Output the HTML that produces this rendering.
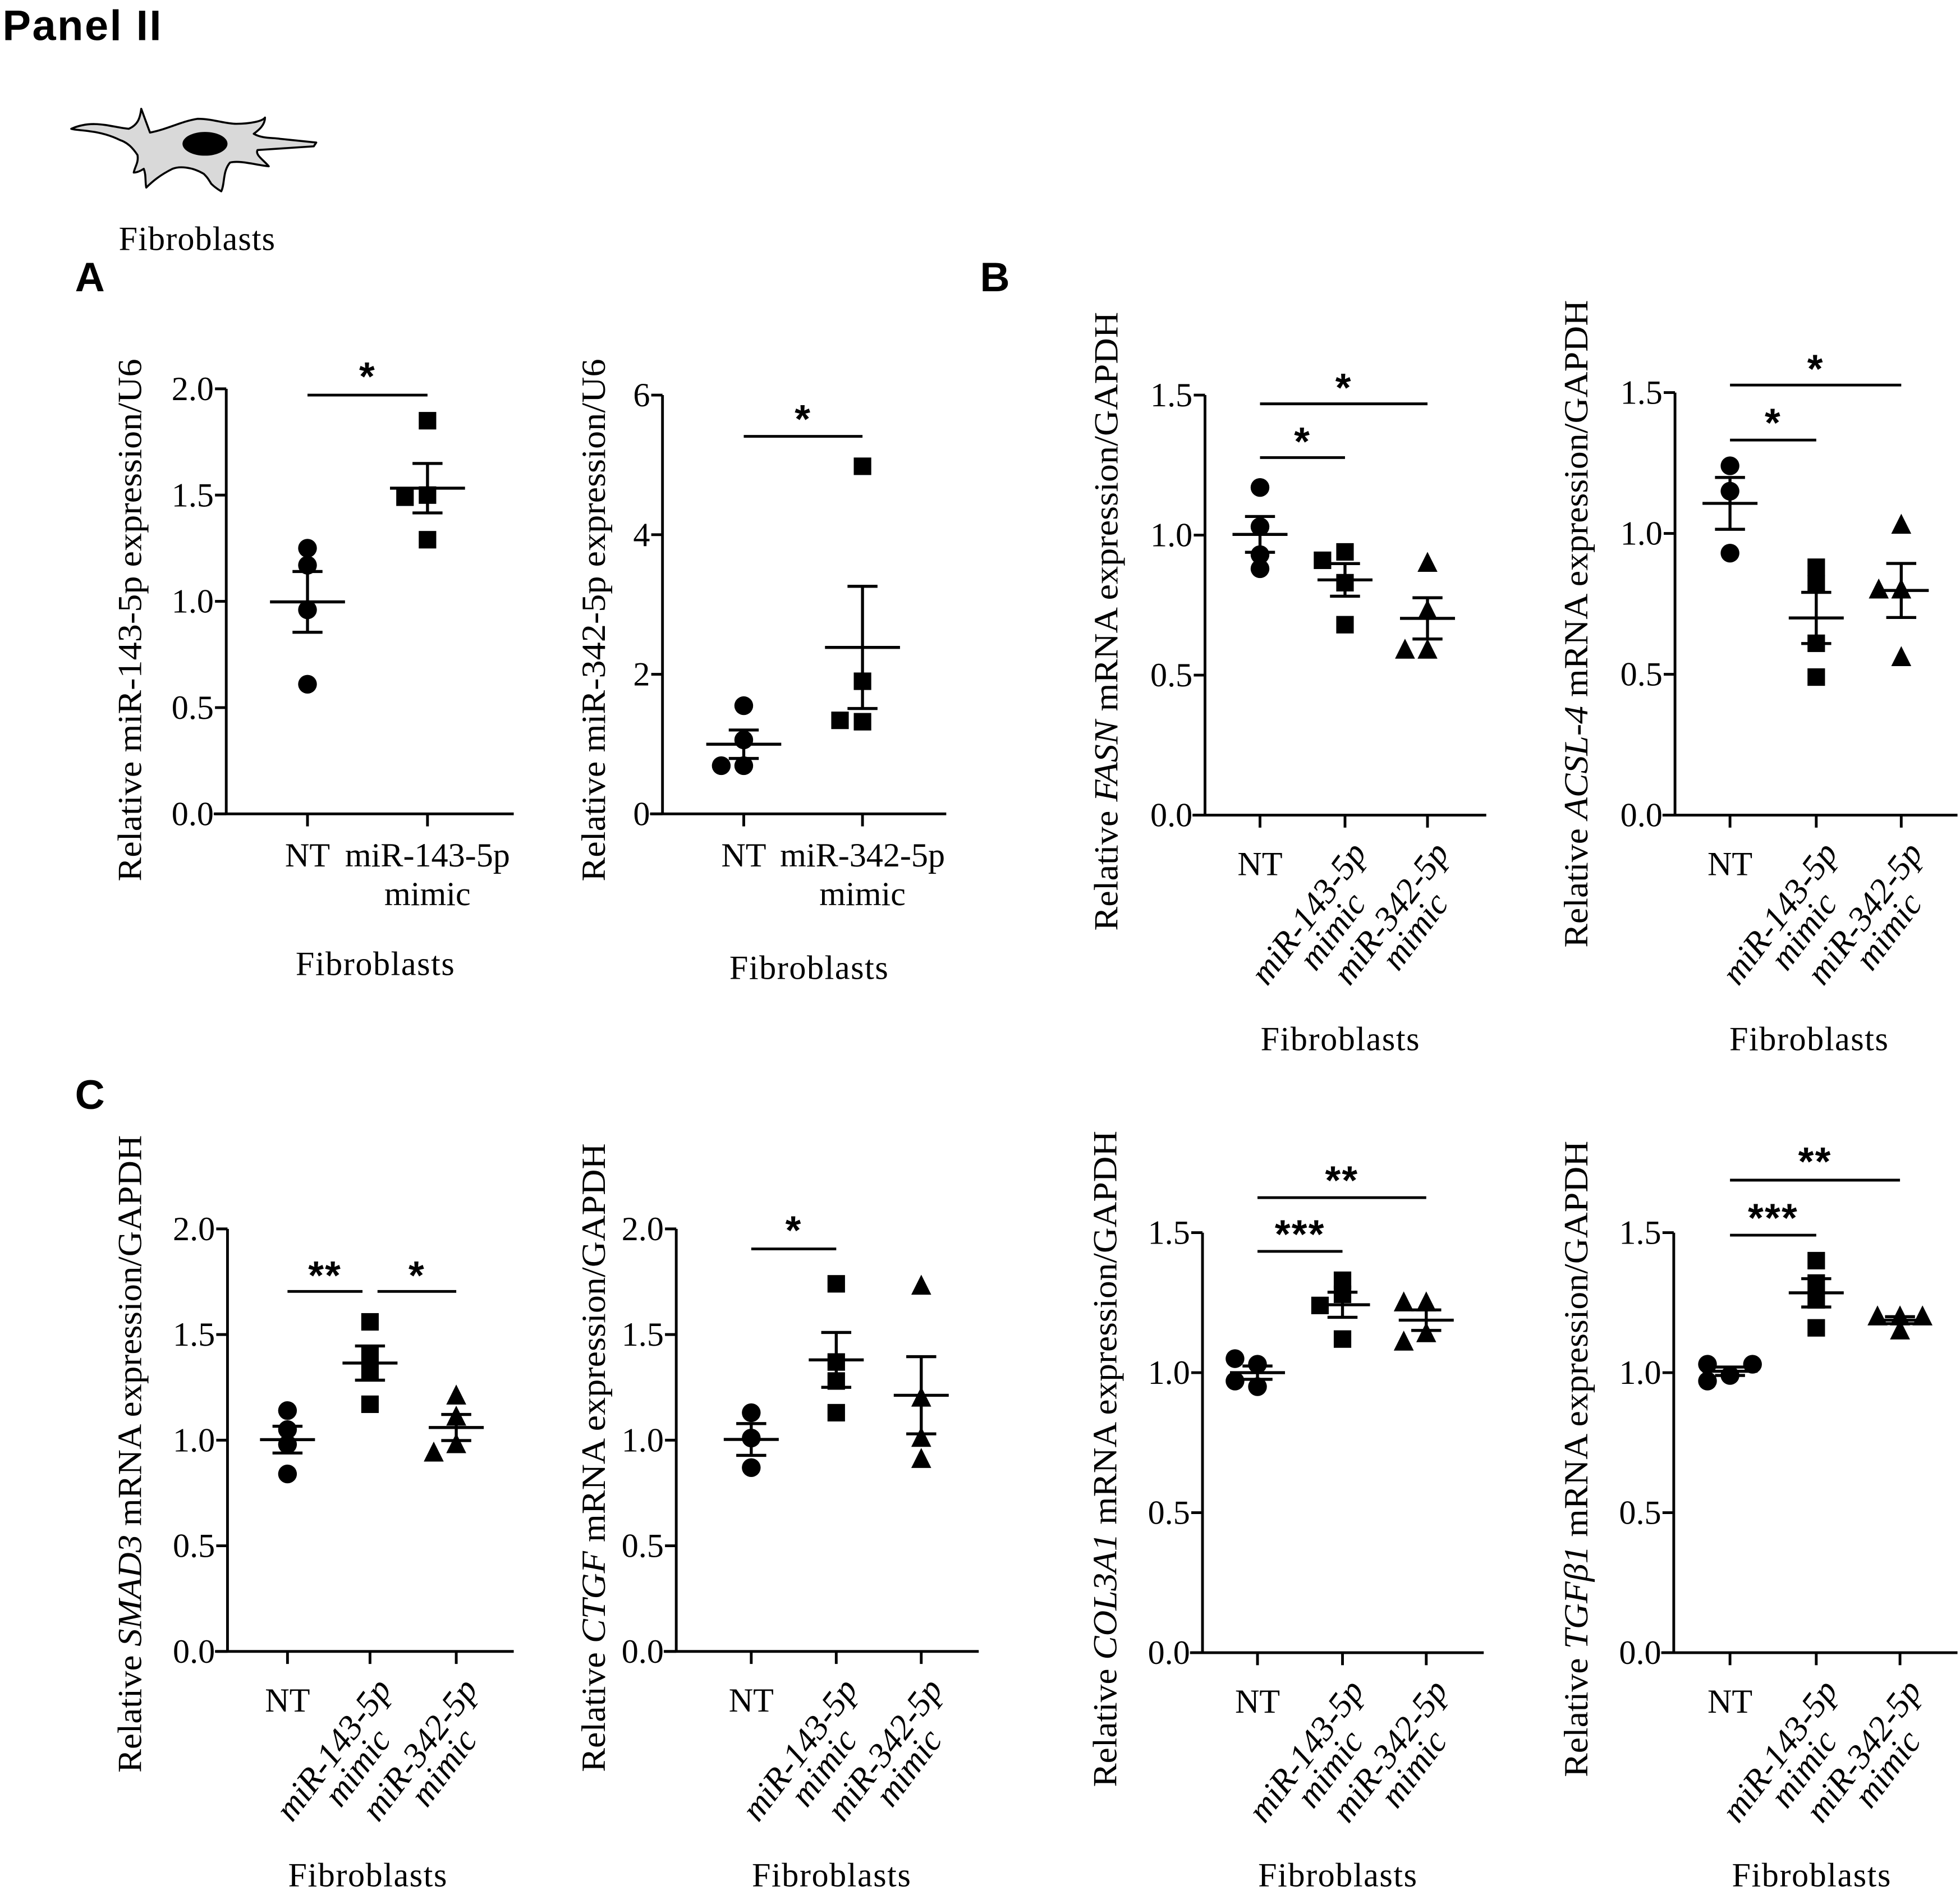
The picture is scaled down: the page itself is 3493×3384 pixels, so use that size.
<!DOCTYPE html>
<html><head><meta charset="utf-8">
<style>
html,body{margin:0;padding:0;background:#fff;}
svg{display:block;}
.serif{font-family:"Liberation Serif","DejaVu Serif",serif;}
.sans{font-family:"Liberation Sans","DejaVu Sans",sans-serif;}
</style></head>
<body>
<svg id="fig" width="3493" height="3384" viewBox="0 0 1568 1519" xmlns="http://www.w3.org/2000/svg">
  <rect x="0" y="0" width="1568" height="1519" fill="#fff"/>
  <text class="sans" x="2" y="32" font-size="34" font-weight="bold" textLength="127">Panel II</text>
  <g>
    <path d="M57,103 C75,95 90,102 103,103 C110,100 112,95 113,87 L120,106 C135,103 145,97 158,95 C170,95 180,99 189,99 C200,99 210,97 212,94 C212,100 207,104 203,107 C210,111 218,110 224,111 L253,114 L251,117 L206,120 C204,124 211,128 215,133 C205,132 192,128 184,130 C178,137 180,147 177,153 C172,150 170,148 169,147 C166,142 165,141 163,139 C153,133 143,133 138,135 C128,140 122,145 117,150 C116,145 117,140 115,135 C112,137 109,138 107,138 C108,133 111,130 110,124 C106,118 102,114 96,112 C88,108 80,106 72,105 C66,104 60,104 57,103 Z" fill="#d9d9d9" stroke="#000" stroke-width="1.6" stroke-linejoin="round"/>
    <ellipse cx="164" cy="115" rx="18" ry="9.5" fill="#000"/>
  </g>
  <text class="serif" x="95" y="200" font-size="27" textLength="125">Fibroblasts</text>
  <text class="sans" x="60" y="233" font-size="33" font-weight="bold">A</text>
  <text class="sans" x="784" y="233" font-size="33" font-weight="bold">B</text>
  <text class="sans" x="60" y="887" font-size="33" font-weight="bold">C</text>
  <g id="charts"></g>
</svg>
<script>
// ---------- data ----------
const catsTwo143 = ["NT", "miR-143-5p"];
const catsTwo342 = ["NT", "miR-342-5p"];
const catsThree = ["NT", "miR-143-5p", "miR-342-5p"];
const ticksA1 = [0, 0.5, 1.0, 1.5, 2.0];
const ticksA2 = [0, 2, 4, 6];
const ticks15 = [0, 0.5, 1.0, 1.5];
const ticks20 = [0, 0.5, 1.0, 1.5, 2.0];

const mir143Values = [[1.25, 1.17, 0.96, 0.61], [1.85, 1.50, 1.49, 1.29]];
const mir342Values = [[1.55, 1.06, 0.69, 0.69], [4.98, 1.90, 1.32, 1.34]];
const fasnValues = [[1.17, 1.03, 0.93, 0.88], [0.94, 0.91, 0.83, 0.68], [0.90, 0.73, 0.59, 0.59]];
const acsl4Values = [[1.24, 1.15, 0.93], [0.88, 0.82, 0.61, 0.49], [1.03, 0.80, 0.80, 0.56]];
const smad3Values = [[1.14, 1.05, 0.98, 0.84], [1.56, 1.40, 1.33, 1.17], [1.21, 1.11, 0.98, 0.94]];
const ctgfValues = [[1.13, 1.01, 0.87], [1.74, 1.37, 1.28, 1.13], [1.73, 1.20, 1.01, 0.91]];
const col3a1Values = [[0.95, 1.03, 1.05, 0.97], [1.33, 1.28, 1.24, 1.12], [1.25, 1.25, 1.14, 1.11]];
const tgfb1Values = [[0.99, 1.03, 1.03, 0.97], [1.40, 1.32, 1.26, 1.16], [1.20, 1.20, 1.20, 1.15]];

const sigA1 = [[0, 1, "*"]];
const sigA2 = [[0, 1, "*"]];
const sigFasn = [[0, 2, "*"], [0, 1, "*"]];
const sigAcsl4 = [[0, 2, "*"], [0, 1, "*"]];
const sigSmad3 = [[0, 1, "**"], [1, 2, "*"]];
const sigCtgf = [[0, 1, "*"]];
const sigCol3a1 = [[0, 2, "**"], [0, 1, "***"]];
const sigTgfb1 = [[0, 2, "**"], [0, 1, "***"]];

// ---------- layout (not data) ----------
const NS = "http://www.w3.org/2000/svg";
const root = document.getElementById("charts");
function mk(tag, attrs, parent) {
  const e = document.createElementNS(NS, tag);
  for (const k in attrs) e.setAttribute(k, attrs[k]);
  (parent || root).appendChild(e);
  return e;
}

const panels = [
  {id:"mir143", values:mir143Values, cats:catsTwo143, ticks:ticksA1, fmt:1, max:2.0, ax:181, y0:651, yTop:311, xs:[246,342], xEnd:411, rot:false, meanHalf:30,
   title:[["Relative miR-143-5p expression/U6",false]], titleX:113, titleC:496, titleLen:418, fib:[300,780], sig:sigA1, sigY:[316], starY:[293]},
  {id:"mir342", values:mir342Values, cats:catsTwo342, ticks:ticksA2, fmt:0, max:6, ax:530, y0:651, yTop:316, xs:[595,690], xEnd:757, rot:false, meanHalf:30,
   title:[["Relative miR-342-5p expression/U6",false]], titleX:484, titleC:496, titleLen:418, fib:[647,783], sig:sigA2, sigY:[349], starY:[327]},
  {id:"fasn", values:fasnValues, cats:catsThree, ticks:ticks15, fmt:1, max:1.5, ax:964, y0:652, yTop:316, xs:[1008,1076,1142], xEnd:1189, rot:true, meanHalf:22,
   title:[["Relative ",false],["FASN",true],[" mRNA expression/GAPDH",false]], titleX:894, titleC:497, titleLen:495, fib:[1072,840], sig:sigFasn, sigY:[323,366], starY:[302,345]},
  {id:"acsl4", values:acsl4Values, cats:catsThree, ticks:ticks15, fmt:1, max:1.5, ax:1340, y0:652, yTop:314, xs:[1384,1453,1521], xEnd:1566, rot:true, meanHalf:22,
   title:[["Relative ",false],["ACSL-4",true],[" mRNA expression/GAPDH",false]], titleX:1270, titleC:499, titleLen:518, fib:[1447,840], sig:sigAcsl4, sigY:[308,352], starY:[287,330]},
  {id:"smad3", values:smad3Values, cats:catsThree, ticks:ticks20, fmt:1, max:2.0, ax:182, y0:1321, yTop:983, xs:[230,296,365], xEnd:411, rot:true, meanHalf:22,
   title:[["Relative ",false],["SMAD3",true],[" mRNA expression/GAPDH",false]], titleX:113, titleC:1163, titleLen:510, fib:[294,1509], sig:sigSmad3, sigY:[1033,1033], starY:[1012,1012]},
  {id:"ctgf", values:ctgfValues, cats:catsThree, ticks:ticks20, fmt:1, max:2.0, ax:541, y0:1321, yTop:983, xs:[601,669,737], xEnd:783, rot:true, meanHalf:22,
   title:[["Relative ",false],["CTGF",true],[" mRNA expression/GAPDH",false]], titleX:484, titleC:1166, titleLen:503, fib:[665,1509], sig:sigCtgf, sigY:[999], starY:[976]},
  {id:"col3a1", values:col3a1Values, cats:catsThree, ticks:ticks15, fmt:1, max:1.5, ax:962, y0:1322, yTop:986, xs:[1006,1074,1141], xEnd:1187, rot:true, meanHalf:22,
   title:[["Relative ",false],["COL3A1",true],[" mRNA expression/GAPDH",false]], titleX:893, titleC:1167, titleLen:525, fib:[1070,1509], sig:sigCol3a1, sigY:[958,1001], starY:[936,979]},
  {id:"tgfb1", values:tgfb1Values, cats:catsThree, ticks:ticks15, fmt:1, max:1.5, ax:1339, y0:1322, yTop:986, xs:[1384,1453,1520], xEnd:1566, rot:true, meanHalf:22,
   title:[["Relative ",false],["TGFβ1",true],[" mRNA expression/GAPDH",false]], titleX:1270, titleC:1167, titleLen:509, fib:[1449,1509], sig:sigTgfb1, sigY:[944,988], starY:[921,966]}
];

const shapes = ["circle","square","triangle"];

function drawMarker(g, shape, x, y) {
  let m;
  if (shape === "circle") m = mk("circle", {cx:x, cy:y, r:7.5, fill:"#000"}, g);
  else if (shape === "square") m = mk("rect", {x:x-7, y:y-7, width:14, height:14, fill:"#000"}, g);
  else m = mk("polygon", {points:(x)+","+(y-9)+" "+(x+8)+","+(y+7)+" "+(x-8)+","+(y+7), fill:"#000"}, g);
  return m;
}

panels.forEach(p => {
  const g = mk("g", {});
  
  
  const yScale = v => p.y0 - (v / p.max) * (p.y0 - p.yTop);
  const xScale = i => p.xs[i];

  const yAxis = mk("g", {}, g);
  
  
  mk("line", {x1:p.ax, y1:yScale(p.max), x2:p.ax, y2:p.y0, stroke:"#000", "stroke-width":2.2}, yAxis);
  p.ticks.forEach(t => {
    const y = yScale(t);
    mk("line", {x1:p.ax-9, y1:y, x2:p.ax, y2:y, stroke:"#000", "stroke-width":2.2}, yAxis);
    const lbl = mk("text", {x:p.ax-10, y:y+9, "font-size":27, "text-anchor":"end", class:"serif"}, yAxis);
    lbl.textContent = p.fmt ? t.toFixed(1) : String(t);
    
    
  });

  const xAxis = mk("g", {}, g);
  
  
  mk("line", {x1:p.ax-10, y1:p.y0, x2:p.xEnd, y2:p.y0, stroke:"#000", "stroke-width":2.2}, xAxis);
  p.cats.forEach((c, i) => {
    const x = xScale(i);
    mk("line", {x1:x, y1:p.y0, x2:x, y2:p.y0+10, stroke:"#000", "stroke-width":2.2}, xAxis);
    if (i === 0) {
      const t = mk("text", {x:x, y:p.rot ? p.y0+48 : p.y0+42, "font-size":27, "text-anchor":"middle", class:"serif"}, xAxis);
      t.textContent = c;
      
      
    } else if (!p.rot) {
      const t = mk("text", {x:x, y:p.y0+42, "font-size":27, "text-anchor":"middle", class:"serif"}, xAxis);
      t.textContent = c;
      
      
      const t2 = mk("text", {x:x, y:p.y0+73, "font-size":27, "text-anchor":"middle", class:"serif"}, xAxis);
      t2.textContent = "mimic";
      
      
    } else {
      const t = mk("text", {transform:"translate("+(x-22)+","+(p.y0+84)+") rotate(-53)", "font-size":28, "text-anchor":"middle", "font-style":"italic", class:"serif"}, xAxis);
      
      
      const s1 = mk("tspan", {x:0, y:0}, t); s1.textContent = c;
      const s2 = mk("tspan", {x:0, y:24}, t); s2.textContent = "mimic";
    }
  });
  const fib = mk("text", {x:p.fib[0], y:p.fib[1], "font-size":27, "text-anchor":"middle", class:"serif", textLength:127}, g);
  fib.textContent = "Fibroblasts";
  
  

  const tt = mk("text", {transform:"translate("+p.titleX+","+p.titleC+") rotate(-90)", "font-size":27, "text-anchor":"middle", class:"serif", textLength:p.titleLen, lengthAdjust:"spacingAndGlyphs"}, g);
  
  
  p.title.forEach(seg => {
    const s = mk("tspan", seg[1] ? {"font-style":"italic"} : {}, tt);
    s.textContent = seg[0];
  });

  p.values.forEach((vals, i) => {
    const cx = xScale(i);
    const shape = shapes[i];
    const grp = mk("g", {}, g);
    
    
    const placed = [];
    vals.forEach(v => {
      const y = yScale(v);
      const offs = [0, -18, 18, -36, 36];
      let px = cx;
      for (const o of offs) {
        const ok = placed.every(q => Math.abs(q[0] - (cx + o)) >= 15 || Math.abs(q[1] - y) >= 10);
        if (ok) { px = cx + o; break; }
      }
      placed.push([px, y]);
      const m = drawMarker(grp, shape, px, y);
      
      
    });
    const n = vals.length;
    const mean = vals.reduce((a, b) => a + b, 0) / n;
    const sd = Math.sqrt(vals.reduce((a, b) => a + (b - mean) * (b - mean), 0) / (n - 1));
    const sem = sd / Math.sqrt(n);
    const ym = yScale(mean), yh = yScale(mean + sem), yl = yScale(mean - sem);
    const ml = mk("line", {x1:cx-p.meanHalf, y1:ym, x2:cx+p.meanHalf, y2:ym, stroke:"#000", "stroke-width":2.4}, grp);
    
    
    const eb = mk("path", {d:"M"+cx+","+yh+"V"+yl+"M"+(cx-12)+","+yh+"H"+(cx+12)+"M"+(cx-12)+","+yl+"H"+(cx+12), stroke:"#000", "stroke-width":2.4, fill:"none"}, grp);
    
    
  });

  p.sig.forEach((s, k) => {
    const sg = mk("g", {}, g);
    
    
    let x1 = xScale(s[0]), x2 = xScale(s[1]);
    if (p.id === "smad3") { if (s[0] === 0) x2 -= 6; else x1 += 6; }
    mk("line", {x1:x1, y1:p.sigY[k], x2:x2, y2:p.sigY[k], stroke:"#000", "stroke-width":2.2}, sg);
    const st = mk("text", {x:(x1+x2)/2, y:p.starY[k]+19, "font-size":32, "font-weight":"bold", "text-anchor":"middle", class:"sans", "letter-spacing":"1"}, sg);
    st.textContent = s[2];
  });
});
</script>
</body></html>
